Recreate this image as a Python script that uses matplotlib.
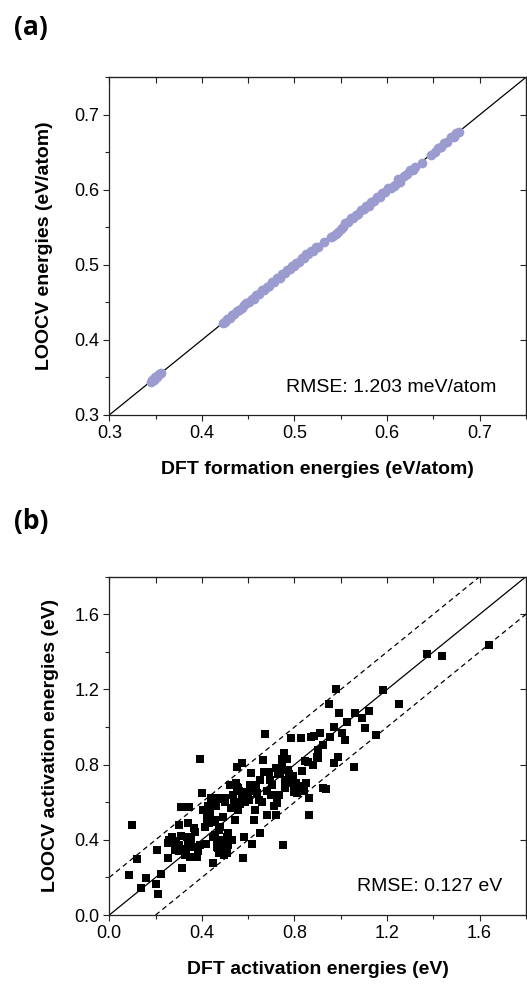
import matplotlib.pyplot as plt
from matplotlib.ticker import MultipleLocator

plt.rcParams['font.family'] = ['Liberation Sans', 'DejaVu Sans']

# panel (a): formation energies (eV/atom)
a_dft = [0.345, 0.346, 0.348, 0.349, 0.351, 0.352, 0.354, 0.356,
         0.423, 0.425, 0.427, 0.430, 0.432, 0.435, 0.438, 0.440, 0.443, 0.446,
         0.448, 0.451, 0.454, 0.456, 0.459, 0.462, 0.465, 0.467, 0.470, 0.473,
         0.476, 0.478, 0.481, 0.484, 0.487, 0.490, 0.492, 0.495, 0.497, 0.500,
         0.502, 0.505, 0.508, 0.510, 0.513, 0.515, 0.518, 0.520, 0.523, 0.525,
         0.532,
         0.540, 0.542, 0.545, 0.547, 0.550, 0.552, 0.555, 0.558, 0.561, 0.563,
         0.566, 0.569, 0.572, 0.575, 0.577, 0.580, 0.583, 0.586, 0.589, 0.592,
         0.595, 0.598, 0.601, 0.604, 0.607, 0.609, 0.612, 0.614, 0.618, 0.622,
         0.625, 0.628, 0.630,
         0.638,
         0.648, 0.652, 0.655, 0.658, 0.662, 0.665, 0.669, 0.672, 0.675, 0.678]
a_loocv = [0.344, 0.347, 0.347, 0.350, 0.352, 0.351, 0.355, 0.356,
           0.423, 0.424, 0.428, 0.429, 0.433, 0.434, 0.439, 0.440, 0.442, 0.447,
           0.449, 0.450, 0.455, 0.455, 0.460, 0.461, 0.466, 0.466, 0.471, 0.472,
           0.477, 0.477, 0.482, 0.483, 0.488, 0.489, 0.493, 0.494, 0.498, 0.499,
           0.503, 0.504, 0.509, 0.509, 0.514, 0.514, 0.519, 0.519, 0.524, 0.524,
           0.531,
           0.537, 0.538, 0.541, 0.544, 0.548, 0.551, 0.556, 0.557, 0.562, 0.562,
           0.567, 0.568, 0.573, 0.574, 0.578, 0.579, 0.584, 0.585, 0.590, 0.591,
           0.596, 0.597, 0.602, 0.603, 0.605, 0.606, 0.614, 0.610, 0.619, 0.621,
           0.626, 0.627, 0.631,
           0.636,
           0.647, 0.651, 0.656, 0.657, 0.663, 0.664, 0.670, 0.671, 0.676, 0.677]

# panel (b): activation energies (eV)
b_dft = [0.097, 0.087, 0.118, 0.136, 0.159, 0.205, 0.200, 0.210, 0.222, 0.255,
         0.255, 0.270, 0.280, 0.299, 0.303, 0.309, 0.316, 0.328, 0.335, 0.342,
         0.346, 0.350, 0.357, 0.368, 0.378, 0.390, 0.393, 0.400, 0.424, 0.428,
         0.443, 0.447, 0.450, 0.457, 0.465, 0.472, 0.479, 0.479, 0.486, 0.494,
         0.501, 0.505, 0.515, 0.525, 0.530, 0.540, 0.544, 0.551, 0.554, 0.558,
         0.573, 0.577, 0.580, 0.583, 0.595, 0.602, 0.612, 0.616, 0.626, 0.635,
         0.649, 0.663, 0.667, 0.674, 0.681, 0.693, 0.710, 0.721, 0.724, 0.739,
         0.751, 0.753, 0.761, 0.789, 0.786, 0.796, 0.828, 0.831, 0.837, 0.857,
         0.861, 0.861, 0.872, 0.883, 0.898,
         0.457, 0.465, 0.468, 0.480, 0.494, 0.508, 0.515, 0.508, 0.420, 0.432,
         0.440, 0.455, 0.440, 0.455, 0.470, 0.550, 0.562, 0.575, 0.585, 0.590,
         0.600, 0.720, 0.730, 0.745, 0.760, 0.770, 0.780, 0.792, 0.800, 0.810,
         0.820, 0.840, 0.260, 0.290, 0.300, 0.320, 0.330, 0.340, 0.360,
         0.620, 0.640, 0.650, 0.680, 0.700, 0.660,
         0.285, 0.310, 0.352, 0.372, 0.385, 0.405, 0.412, 0.418, 0.436, 0.462,
         0.475, 0.490, 0.498, 0.520, 0.535, 0.548, 0.566, 0.606, 0.630, 0.645,
         0.688, 0.705, 0.735, 0.748, 0.768, 0.776, 0.805, 0.845, 0.852, 0.878,
         0.900, 0.909, 0.900, 0.922, 0.937, 0.922, 0.948, 0.955, 0.973, 0.981,
         0.991, 0.973, 0.987, 1.006, 1.017, 1.027, 1.058, 1.061, 1.092, 1.104,
         1.121, 1.153, 1.183, 1.251, 1.374, 1.436, 1.639]
b_loocv = [0.481, 0.213, 0.298, 0.144, 0.199, 0.348, 0.165, 0.110, 0.220, 0.301,
           0.381, 0.417, 0.394, 0.479, 0.342, 0.573, 0.252, 0.319, 0.417, 0.488,
           0.576, 0.310, 0.363, 0.461, 0.310, 0.372, 0.828, 0.647, 0.514, 0.580,
           0.612, 0.275, 0.417, 0.505, 0.363, 0.328, 0.621, 0.470, 0.399, 0.346,
           0.621, 0.363, 0.434, 0.567, 0.399, 0.603, 0.505, 0.789, 0.674, 0.558,
           0.807, 0.301, 0.629, 0.417, 0.656, 0.612, 0.757, 0.376, 0.505, 0.691,
           0.438, 0.824, 0.762, 0.961, 0.532, 0.718, 0.580, 0.534, 0.594, 0.762,
           0.371, 0.860, 0.674, 0.718, 0.940, 0.656, 0.943, 0.768, 0.665, 0.816,
           0.624, 0.532, 0.949, 0.952, 0.842,
           0.426, 0.390, 0.355, 0.328, 0.319, 0.332, 0.372, 0.417, 0.505, 0.490,
           0.500, 0.495, 0.620, 0.625, 0.618, 0.680, 0.660, 0.632, 0.600, 0.640,
           0.620, 0.780, 0.750, 0.800, 0.720, 0.770, 0.700, 0.740, 0.670, 0.650,
           0.685, 0.660, 0.400, 0.390, 0.370, 0.350, 0.330, 0.370, 0.360,
           0.660, 0.650, 0.720, 0.660, 0.640, 0.600,
           0.345, 0.420, 0.400, 0.440, 0.340, 0.560, 0.470, 0.380, 0.540, 0.580,
           0.450, 0.520, 0.600, 0.690, 0.640, 0.700, 0.590, 0.690, 0.560, 0.610,
           0.760, 0.690, 0.640, 0.830, 0.830, 0.750, 0.700, 0.820, 0.700, 0.800,
           0.878, 0.966, 0.833, 0.674, 0.668, 0.904, 1.121, 0.949, 1.002, 1.200,
           1.073, 0.807, 0.842, 0.970, 0.931, 1.028, 0.785, 1.073, 1.050, 0.995,
           1.087, 0.957, 1.197, 1.122, 1.387, 1.379, 1.436]

a_lim = (0.3, 0.75)
b_lim = (0.0, 1.8)
b_band = 0.2

fig = plt.figure(figsize=(5.27, 9.84), dpi=100)
ax1 = fig.add_axes([0.2074, 0.5783, 0.7905, 0.3431])
ax2 = fig.add_axes([0.2074, 0.0701, 0.7905, 0.3438])


def style(ax, major, minor):
    ax.xaxis.set_major_locator(MultipleLocator(major))
    ax.xaxis.set_minor_locator(MultipleLocator(minor))
    ax.yaxis.set_major_locator(MultipleLocator(major))
    ax.yaxis.set_minor_locator(MultipleLocator(minor))
    ax.tick_params(which='both', direction='out', top=False, right=False,
                   labelsize=13, color='#222222', width=0.8, pad=2.5)
    ax.tick_params(which='major', length=4.5)
    ax.tick_params(which='minor', length=3)
    for s in ax.spines.values():
        s.set_color('#222222')
        s.set_linewidth(0.9)
    # inward ticks on top and right
    sx = ax.secondary_xaxis('top')
    sx.xaxis.set_major_locator(MultipleLocator(major))
    sx.xaxis.set_minor_locator(MultipleLocator(minor))
    sx.tick_params(which='both', direction='in', labeltop=False, color='#222222', width=0.8)
    sx.tick_params(which='major', length=4)
    sx.tick_params(which='minor', length=4)
    sy = ax.secondary_yaxis('right')
    sy.yaxis.set_major_locator(MultipleLocator(major))
    sy.yaxis.set_minor_locator(MultipleLocator(minor))
    sy.tick_params(which='both', direction='in', labelright=False, color='#222222', width=0.8)
    sy.tick_params(which='major', length=4)
    sy.tick_params(which='minor', length=0)


# (a)
ax1.plot(a_lim, a_lim, color='black', lw=0.9, zorder=1)
ax1.plot(a_dft, a_loocv, 'o', color='#9b9bd0', markersize=7, markeredgewidth=0, zorder=2)
ax1.set_xlim(a_lim)
ax1.set_ylim(a_lim)
style(ax1, 0.1, 0.05)
ax1.set_xlabel('DFT formation energies (eV/atom)', fontsize=14, fontweight='bold')
ax1.set_ylabel('LOOCV energies (eV/atom)', fontsize=14, fontweight='bold')
ax1.xaxis.set_label_coords(0.5, -0.135)
ax1.yaxis.set_label_coords(-0.135, 0.5)
ax1.text(0.93, 0.08, 'RMSE: 1.203 meV/atom', transform=ax1.transAxes,
         ha='right', va='center', fontsize=14)

# (b)
ax2.plot(b_lim, b_lim, color='black', lw=0.9, zorder=1)
ax2.plot([b_lim[0], b_lim[1]], [b_lim[0] + b_band, b_lim[1] + b_band],
         color='black', lw=0.9, ls=(0, (4, 3)), zorder=1)
ax2.plot([b_lim[0] + b_band, b_lim[1] + b_band], [b_lim[0], b_lim[1]],
         color='black', lw=0.9, ls=(0, (4, 3)), zorder=1)
ax2.plot(b_dft, b_loocv, 's', color='black', markersize=5.6, markeredgewidth=0, zorder=2)
ax2.set_xlim(b_lim)
ax2.set_ylim(b_lim)
style(ax2, 0.4, 0.2)
ax2.set_xlabel('DFT activation energies (eV)', fontsize=14, fontweight='bold')
ax2.set_ylabel('LOOCV activation energies (eV)', fontsize=14, fontweight='bold')
ax2.xaxis.set_label_coords(0.5, -0.135)
ax2.yaxis.set_label_coords(-0.12, 0.5)
ax2.text(0.944, 0.084, 'RMSE: 0.127 eV', transform=ax2.transAxes,
         ha='right', va='center', fontsize=14)

fig.text(0.026, 0.972, '(a)', fontsize=19, fontweight='bold', family='Open Sans', va='center')
fig.text(0.026, 0.470, '(b)', fontsize=19, fontweight='bold', family='Open Sans', va='center')

fig.savefig('out.png', dpi=100)
